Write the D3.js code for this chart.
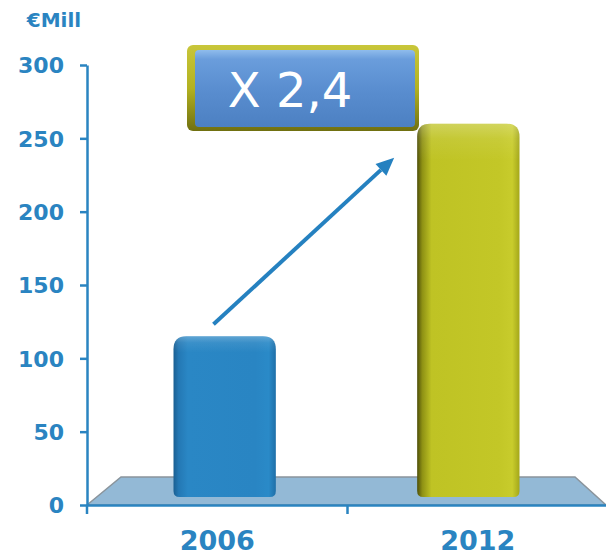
<!DOCTYPE html>
<html>
<head>
<meta charset="utf-8">
<script src="https://cdn.jsdelivr.net/npm/d3@7"></script>
<style>
  body { margin: 0; background: #fff; }
  svg { display: block; }
</style>
</head>
<body>
<div id="chart"></div>
<script>
// 3D-ish bar chart, 2006 vs 2012

const years = ["2006", "2012"];
const values = [115, 260];
const yTicks = [0, 50, 100, 150, 200, 250, 300];
const unitLabel = "€Mill";
const growthLabel = "X 2,4";

const width = 606, height = 557;
const blue = "#2a84c1";

let svg = d3.select("#chart")
    .append("svg")
    .attr("width", width)
    .attr("height", height)
    .attr("viewBox", [0, 0, width, height]);

let y = d3.scaleLinear()
    .domain([0, 300])
    .range([505, 65]);

// category halves for the axis
let x = d3.scaleBand()
    .domain(years)
    .range([87, 608]);

// bars sit a bit inward (perspective)
let xBar = d3.scaleBand()
    .domain(years)
    .range([87, 606])
    .paddingInner(0.58)
    .paddingOuter(0.355);

const defs = svg.append("defs");

function hGrad(id, stops) {
    let g = defs.append("linearGradient").attr("id", id)
        .attr("x1", 0).attr("x2", 1).attr("y1", 0).attr("y2", 0);
    stops.forEach(s => g.append("stop").attr("offset", s[0]).attr("stop-color", s[1]));
}
function vGrad(id, stops) {
    let g = defs.append("linearGradient").attr("id", id)
        .attr("x1", 0).attr("x2", 0).attr("y1", 0).attr("y2", 1);
    stops.forEach(s => g.append("stop").attr("offset", s[0]).attr("stop-color", s[1]));
}

hGrad("barBlue", [[0, "#1a5f92"], [0.05, "#2478b4"], [0.14, "#2a87c5"], [0.8, "#2985c3"], [0.93, "#2a8ac8"], [1, "#1f6fa8"]]);
hGrad("barOlive", [[0, "#4e4f08"], [0.05, "#8e9114"], [0.14, "#bfc324"], [0.8, "#c3c727"], [0.93, "#c8cc2c"], [1, "#a4a71a"]]);
vGrad("topShine", [[0, "rgba(255,255,255,0.25)"], [0.04, "rgba(255,255,255,0.08)"], [0.1, "rgba(255,255,255,0)"], [1, "rgba(255,255,255,0)"]]);
vGrad("boxFace", [[0, "#8fbcec"], [0.12, "#6a9ddc"], [0.5, "#5a8ed0"], [1, "#4c80c2"]]);
vGrad("boxFrame", [[0, "#c8c63a"], [0.5, "#b3b221"], [1, "#707010"]]);

// floor platform
const floorY = y(0), backY = y(0) - 28;
const [fx0, fx1] = xBar.range();
svg.append("polygon")
    .attr("points", [[fx0, floorY], [fx0 + 34, backY], [fx1 - 31, backY], [fx1, floorY]].join(" "))
    .attr("fill", "#93b9d6")
    .attr("stroke", "#8a949c")
    .attr("stroke-width", 1.5);

// bars
const fills = ["url(#barBlue)", "url(#barOlive)"];
function barPath(x0, w, top, bottom) {
    const r = 13, rb = 6;
    return `M${x0},${bottom - rb} L${x0},${top + r} Q${x0},${top} ${x0 + r},${top}
            L${x0 + w - r},${top} Q${x0 + w},${top} ${x0 + w},${top + r}
            L${x0 + w},${bottom - rb} Q${x0 + w},${bottom} ${x0 + w - rb},${bottom}
            L${x0 + rb},${bottom} Q${x0},${bottom} ${x0},${bottom - rb} Z`;
}

let bar = svg.selectAll(".bar")
    .data(years)
    .join("g")
    .attr("class", "bar");

bar.append("path")
    .attr("d", (d, i) => barPath(xBar(d), xBar.bandwidth(), y(values[i]), y(0) - 8))
    .attr("fill", (d, i) => fills[i]);

bar.append("path")
    .attr("d", (d, i) => barPath(xBar(d), xBar.bandwidth(), y(values[i]), y(0) - 8))
    .attr("fill", "url(#topShine)");

// y axis
const yAxis = g => g
    .attr("transform", `translate(${x.range()[0]},0)`)
    .call(d3.axisLeft(y).tickValues(yTicks).tickSize(7).tickSizeOuter(0).tickPadding(16))
    .call(g => g.selectAll("line, path").attr("stroke", blue).attr("stroke-width", 2.5))
    .call(g => g.selectAll("text")
        .attr("fill", blue)
        .attr("font-family", "DejaVu Sans, Verdana, sans-serif")
        .attr("font-weight", "bold")
        .attr("font-size", 22)
        .attr("dy", "0.36em"));

svg.append("g").call(yAxis);

// x axis: line plus ticks at category boundaries
const xAxis = g => g
    .attr("transform", `translate(0,${y(0)})`)
    .call(d3.axisBottom(x).tickSize(0).tickSizeOuter(0).tickPadding(26))
    .call(g => g.select(".domain").attr("stroke", blue).attr("stroke-width", 2.5))
    .call(g => g.selectAll("text")
        .attr("fill", blue)
        .attr("font-family", "DejaVu Sans, Verdana, sans-serif")
        .attr("font-weight", "bold")
        .attr("font-size", 27)
        .attr("dy", "0.71em"));

svg.append("g").call(xAxis);

const bounds = years.map(d => x(d)).concat([x.range()[1]]);
svg.append("g")
    .selectAll("line")
    .data(bounds.slice(0, 2))
    .join("line")
    .attr("x1", d => d).attr("x2", d => d)
    .attr("y1", y(0)).attr("y2", y(0) + 9)
    .attr("stroke", blue)
    .attr("stroke-width", 2.5);

// unit label
svg.append("text")
    .attr("x", 54)
    .attr("y", 27)
    .attr("text-anchor", "middle")
    .attr("fill", blue)
    .attr("font-family", "DejaVu Sans, Verdana, sans-serif")
    .attr("font-weight", "bold")
    .attr("font-size", 20)
    .text(unitLabel);

// growth arrow
const ax0 = xBar(years[0]) + 40, ay0 = y(values[0]) - 12;
const ax1 = xBar(years[1]) - 23, ay1 = y(values[1]) + 34;
const ang = Math.atan2(ay1 - ay0, ax1 - ax0);
const headLen = 18, headW = 8;
const bx = ax1 - headLen * Math.cos(ang), by = ay1 - headLen * Math.sin(ang);
svg.append("line")
    .attr("x1", ax0).attr("y1", ay0)
    .attr("x2", bx).attr("y2", by)
    .attr("stroke", "#2581c0")
    .attr("stroke-width", 4);
svg.append("polygon")
    .attr("points", [
        [ax1, ay1],
        [bx + headW * Math.sin(ang), by - headW * Math.cos(ang)],
        [bx - headW * Math.sin(ang), by + headW * Math.cos(ang)]
    ].join(" "))
    .attr("fill", "#2581c0");

// growth box
const box = svg.append("g");
box.append("rect")
    .attr("x", 187).attr("y", 45)
    .attr("width", 232).attr("height", 86)
    .attr("rx", 6)
    .attr("fill", "url(#boxFrame)");
box.append("rect")
    .attr("x", 195).attr("y", 50)
    .attr("width", 220).attr("height", 77)
    .attr("rx", 4)
    .attr("fill", "url(#boxFace)");
box.append("text")
    .attr("x", 290)
    .attr("y", 107)
    .attr("text-anchor", "middle")
    .attr("fill", "#fff")
    .attr("font-family", "DejaVu Sans, Verdana, sans-serif")
    .attr("font-size", 48)
    .text(growthLabel);
</script>
</body>
</html>
